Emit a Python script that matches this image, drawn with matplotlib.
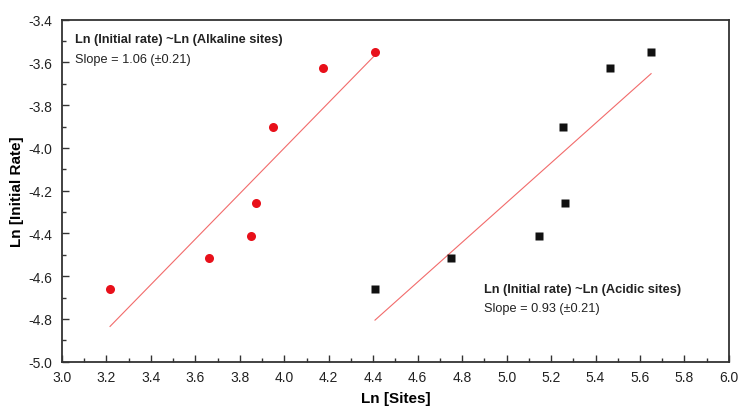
import numpy as np
import matplotlib
matplotlib.use("Agg")
import matplotlib.pyplot as plt
from matplotlib.ticker import MultipleLocator, FormatStrFormatter

plt.rcParams['font.family'] = ['Liberation Sans', 'DejaVu Sans']
plt.rcParams['axes.unicode_minus'] = False

ln_rate = [-4.66, -4.515, -4.41, -4.258, -3.903, -3.626, -3.552]
ln_alkaline = [3.216, 3.663, 3.850, 3.871, 3.951, 4.176, 4.407]
ln_acidic = [4.408, 4.748, 5.147, 5.263, 5.253, 5.465, 5.650]

alk_label = "Ln (Initial rate) ~Ln (Alkaline sites)"
alk_slope = "Slope = 1.06 (±0.21)"
acid_label = "Ln (Initial rate) ~Ln (Acidic sites)"
acid_slope = "Slope = 0.93 (±0.21)"

fig = plt.figure(figsize=(7.4, 4.1), dpi=100)
ax = fig.add_axes([0.0838, 0.1154, 0.9012, 0.8341])

# linear fit lines
for xs in (ln_alkaline, ln_acidic):
    xa = np.array(xs); ya = np.array(ln_rate)
    m, b = np.polyfit(xa, ya, 1)
    xx = np.array([xa.min(), xa.max()])
    ax.plot(xx, m * xx + b, color='#f26b6b', lw=0.8, zorder=2)

ax.plot(ln_alkaline, ln_rate, 'o', color='#e8101a', ms=6.5, mec='none', zorder=3)
ax.plot(ln_acidic, ln_rate, 's', color='#111111', ms=6.0, mec='none', zorder=3)

ax.set_xlim(3.0, 6.0)
ax.set_ylim(-5.0, -3.4)
ax.xaxis.set_major_locator(MultipleLocator(0.2))
ax.xaxis.set_minor_locator(MultipleLocator(0.1))
ax.yaxis.set_major_locator(MultipleLocator(0.2))
ax.yaxis.set_minor_locator(MultipleLocator(0.1))
ax.xaxis.set_major_formatter(FormatStrFormatter('%.1f'))
ax.yaxis.set_major_formatter(FormatStrFormatter('%.1f'))
ax.tick_params(which='both', direction='in', top=False, right=False,
               color='#333333', width=1.0, labelsize=10, labelcolor='#222222')
ax.tick_params(axis='x', which='major', length=5, pad=6)
ax.tick_params(axis='y', which='major', length=5, pad=7)
ax.tick_params(which='minor', length=3)
for s in ax.spines.values():
    s.set_color('#333333')
    s.set_linewidth(1.3)

ax.set_xlabel('Ln [Sites]', fontsize=11, fontweight='bold', labelpad=5)
ax.set_ylabel('Ln [Initial Rate]', fontsize=11, fontweight='bold', labelpad=3)

ax.text(3.058, -3.49, alk_label, fontsize=9.2, fontweight='bold', color='#222222', va='center')
ax.text(3.058, -3.586, alk_slope, fontsize=9.2, color='#222222', va='center')
ax.text(4.898, -4.658, acid_label, fontsize=9.2, fontweight='bold', color='#222222', va='center')
ax.text(4.898, -4.751, acid_slope, fontsize=9.2, color='#222222', va='center')

fig.savefig('out.png', dpi=100)
